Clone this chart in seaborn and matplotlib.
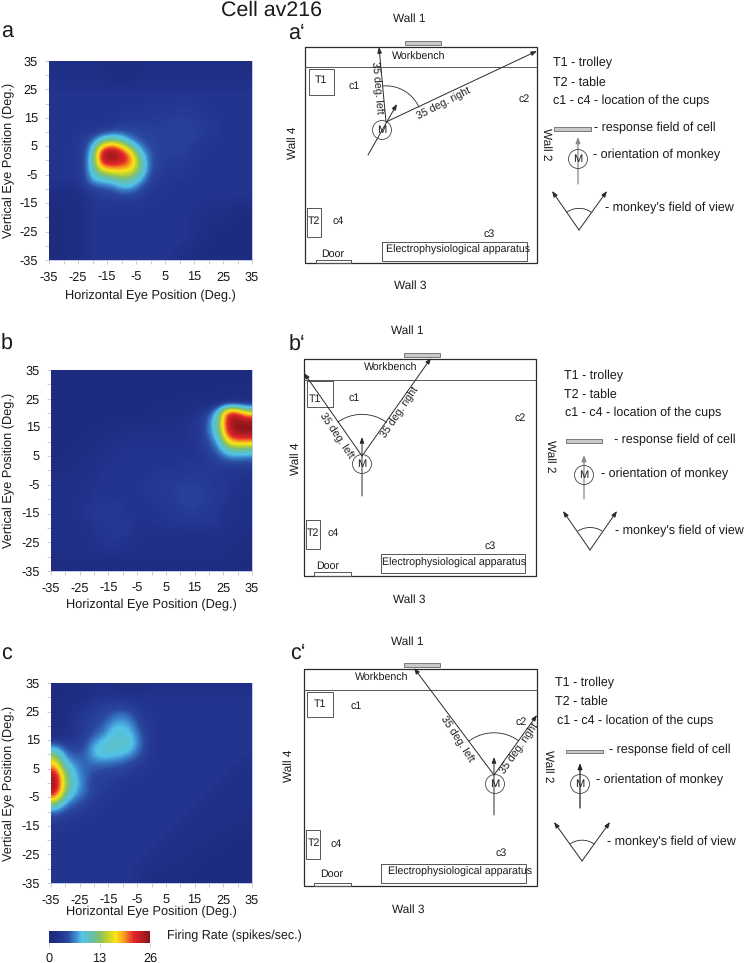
import numpy as np
import pandas as pd
import seaborn as sns
import matplotlib.pyplot as plt
from matplotlib.colors import LinearSegmentedColormap

# firing rate, rows run top (+35) to bottom (-35)
rate_a = [
    [2,2,2,2,2,1,1,1,1,1,2,2,2,2,2,2,2,2,2,2,1],
    [2,2,2,2,2,2,1,1,1,2,2,2,2,2,2,2,2,2,2,2,2],
    [2.5,2.5,2.5,2.5,2.5,2,2,2,2,2,2.5,2.5,2.5,2.5,2.5,2.5,2.5,2.5,2.5,2.5,2.5],
    [3,3,3,3,3,3,3,3,3,3,3,3,3,3,3,3,3,3,3,3,3],
    [3,3,3,3,3,3,3,3,3,3,3,3,3,3.5,3.5,3,3,3,3,3,3],
    [3,3,3,3,3,3,3,3,3,3,3.5,3.5,3.5,3.5,3.5,3.5,3,3,3,3,3],
    [3,3,3,3,3,3,3,3.5,3.5,3.5,3.5,3.5,4,4,4,3.5,3.5,3,3,3,3],
    [3,3,3,3,3,3.5,4.5,5,4.5,4.5,4,4,4,4,4,4,3.5,3,3,3,3],
    [3,3,3,3.5,6,12,15,12,7,5,4.5,4,4,4,4,3.5,3,3,3,3,3],
    [3,3,3,3.5,9,24,26,23,17,8,5,4,4,4,3.5,3,3,3,3,3,3],
    [3,3,3,3.5,10,25,25,24,21,12,5,4,3.5,3.5,3.5,3,3,3,3,3,3],
    [3,3,3,3.5,10,16,18,18,17,12,5,3.5,3.5,3.5,3,3,3,3,3,3,3],
    [3,3,3,3.5,8,9,10,12,12,8,4,3.5,3,3,3,3,3,3,3,3,3],
    [2,2,2,3,4,4.5,5,7,7,4.5,3.5,3,3,3,3,3,3,3,3,3,3],
    [1,1,1,2,3,3.5,3.5,3.5,3.5,3.5,3,3,3,3,3,3,3,3,3,3,3],
    [1,1,1,2,3,3,3,3,3,3,3,3,3,3,3,3,2,2,2,1,1],
    [1,1,1,2,3,3,3,3,3,3,3,3,3,3,3,2,2,2,1,1,1],
    [1,1,1,2,3,3,3,3,3,3,3,3,3,3,3,2,1,1,1,1,1],
    [1,1,1,2,3,3,3,3,3,3,3,3,3,3,3,2,1,1,1,1,1],
    [1,1,1,2,3,3,3,3,3,3,3,3,3,3,2,1,1,1,1,1,1],
    [1,1,1,2,3,3,3,3,3,3,3,3,3,2,1,1,1,1,1,1,1],
]
rate_b = [
    [1,1,1,1,1,1,1,1,1,1,1,1,1,1,1,1,1,1,1,1,1],
    [1,1,1,1,1,1,1,1,1,1,1,1,1,1,1,1,1,1,1,1,1],
    [1,1,1,1,1,1,1,1,1,1,1,1,1,1,1,1,1,1,1,1,1],
    [1,1,1,1,1,1,1,1,1,1,1,1,1,1,1,1,1,1,1.5,1.5,1.5],
    [1,1,1,1,1,1,1,1,1,1,1,1,1,1,2,3,4,10,24,22,16],
    [1,1,1,1,1,1,1,1,1,1,1,2,2,2,3,3,6,12,24,26,26],
    [1,1,1,1,1,1,1,2,2,2,2,2,2,2,3,3,6,11,24,26,26],
    [1,1,1,1,1,2,2,2.5,2.5,2.5,2.5,2.5,2.5,2.5,3,3,5,8,18,20,20],
    [1,1,1,1,2,2,2.5,3,3,3,3,3,3,3,3,3,4,6,10,11,10],
    [1,1,1,2,2,2.5,3,3,3,3,3,3,3,3,3,3,3.5,4,5,5,5],
    [1,1,2,2,2,3,3,3,3,3,3,3,3,3,3.5,3.5,3.5,3.5,3,3,3],
    [2,2,2,2,2.5,3,3,3,3,3,3,3.5,3.5,3.5,3.5,3.5,3.5,3,3,3,2.5],
    [2,2,2,2,3,3,3,3,3,3,3.5,3.5,3.5,4,4,4,3.5,3.5,3,2.5,2],
    [2,2,2,2.5,3,3,3,3,3,3,3,3.5,3.5,4,4.5,4,3.5,3.5,3,2,2],
    [2,2,2,3,3,3.5,3.5,3,3,3,3,3,3.5,3.5,4,3.5,3.5,3,2.5,2,2],
    [2,2,2,3,3,3.5,3.5,3,3,3,3,3,3,3.5,3.5,3.5,3.5,3,2.5,2,2],
    [2,2,2,2,3,3,3.5,3.5,3,2,2.5,3,3,3,3,3,3,3,2,2,2],
    [2,2,2,2,3,3,3,3,3,2,2,2,2,2,2,2,2,2,2,2,1],
    [2,2,2,2,2,3,3,3,2,2,2,2,2,2,2,2,2,2,2,1,1],
    [1,2,2,2,2,2,2,2,2,2,2,2,2,2,2,2,2,2,1,1,1],
    [1,1,1,1,1,1,1,1,1,1,1,1,1,1,1,1,1,1,1,1,1],
]
rate_c = [
    [1,1,1,1,2,2,2,1,1,1,2,2,2,2,2,2,2,2,2,2,2],
    [1,1,1,1,3,3,3,3,3,3,3,3,3,3,3,3,3,3,3,3,3],
    [1,1,2,3,3.5,4,4,4,3.5,3,3,3,3,3,3,3,3,3,3,3,3],
    [1,1,3,3.5,4,4.5,6,7,5.5,3.5,3,3,3,3,3,3,3,3,3,3,3],
    [1,2,3,3.5,4.5,5.5,8,8.5,7,4,3,3,3,3,3,3,3,3,3,3,3],
    [1,2,3,3.5,5.5,7,9.5,9.5,8.5,5,3,3,3,3,3,3,3,3,3,3,3],
    [6,4,3.5,4.5,8,9.5,10,10,9,5.5,3,3,3,3,3,3,3,3,3,3,3],
    [13,6.5,5,5.5,8.5,9.5,9,8.5,7,4.5,3,3,3,3,3,3,3,3,3,3,3],
    [18,9,7,5.5,6,6,5.5,5,4,3.5,3,3,3,3,3,3,3,3,3,3,2],
    [24,13,8,6,4.5,4,4,4,3,3,3,3,3,3,3,3,3,3,3,2,2],
    [26,14,9,6,4,4,3.5,3,3,3,3,3,3,3,3,3,3,3,2,2,2],
    [24,13,8,6,4,3.5,3,3,3,3,3,3,3,3,3,3,3,2,2,2,2],
    [15,7.5,5.5,4.5,3.5,3,3,3,3,3,3,3,3,3,3,3,2,2,2,2,2],
    [6,4.5,4,3.5,3,3,3,3,3,3,3,3,3,3,3,2,2,2,2,2,2],
    [3.5,3.5,3,3,3,3,3,3,3,3,3,3,3,3,2,2,2,2,2,2,1],
    [3,3,3,3,3,3,3,3,3,3,3,3,3,2,2,2,2,2,1,1,1],
    [3,3,3,3,3,3,3,3,3,3,3,3,2,2,2,2,2,1,1,1,1],
    [3,3,3,3,3,3,3,3,3,3,3,2,2,2,2,1,1,1,1,1,1],
    [3,3,3,3,3,3,3,3,3,3,2,2,2,2,1,1,1,1,1,1,1],
    [3,3,3,3,3,3,3,3,3,2,2,2,1,1,1,1,1,1,1,1,1],
    [3,3,3,3,3,3,3,3,3,2,1,1,1,1,1,1,1,1,1,1,1],
]
major_ticks = [-35, -25, -15, -5, 5, 15, 25, 35]
minor_ticks = [-30, -20, -10, 0, 10, 20, 30]
cbar_ticks = [0, 13, 26]

# layout in pixels of the 746x963 picture: left, top, right, bottom, xlabel y, ylabel x
map_boxes = {
    "a": (49, 61, 252, 260, 296, 9),
    "b": (51, 370, 252, 571, 605, 9),
    "c": (51, 683, 252, 883, 912, 9),
}

rooms = [
    dict(letter=("a", 1, 38), prime=("a\u2018", 288, 39),
         box=(305, 47, 537, 263), bench_y=67, field=(405, 41, 441, 45),
         bench=(419, 57), t1=(309, 69, 334, 95), t1_txt=(321, 80),
         t2=(307, 208, 321, 237), t2_txt=(314, 221),
         c1=(354, 86), c2=(524, 99), c3=(489, 234), c4=(338, 221),
         app=(382, 242, 527, 261), app_txt=(386, 250),
         door=(316, 260, 351, 263), door_txt=(333, 254),
         w1=(409, 19), w3=(410, 286), w4=(293, 143), w2=(546, 144),
         m=(382, 130), apex=(386, 122), left=(379, 47), right=(537, 51),
         ori=((368, 155), (397, 104)), arc=((383, 86), (419, 107)),
         ltxt=(376, 88, -85), rtxt=(444, 104, 27),
         lg_t=(553, 63, 83), lg_c=(553, 101),
         lg_rect=(554, 127, 591, 131), lg_rtxt=(594, 128),
         lg_m=(578, 159), lg_ori=(184, 137), ori_col="#888888", lg_otxt=(593, 155),
         lg_apex=(579, 230), lg_l=(552, 191), lg_r=(607, 191),
         lg_arc=((567, 212), (592, 211)), lg_vtxt=(605, 208)),
    dict(letter=("b", 1, 350), prime=("b\u2018", 289, 351),
         box=(304, 359, 536, 576), bench_y=380, field=(404, 353, 440, 357),
         bench=(391, 368), t1=(307, 381, 333, 407), t1_txt=(315, 399),
         t2=(306, 520, 320, 549), t2_txt=(313, 533),
         c1=(354, 398), c2=(520, 418), c3=(490, 546), c4=(333, 533),
         app=(381, 554, 525, 573), app_txt=(382, 563),
         door=(314, 572, 351, 576), door_txt=(328, 566),
         w1=(407, 331), w3=(409, 600), w4=(296, 459), w2=(550, 456),
         m=(362, 464), apex=(362, 456), left=(304, 373), right=(431, 358),
         ori=((362, 496), (362, 437)), arc=((338, 422), (387, 422)),
         ltxt=(336, 436, -56), rtxt=(400, 413, 56),
         lg_t=(564, 376, 395), lg_c=(565, 413),
         lg_rect=(566, 439, 602, 443), lg_rtxt=(614, 440),
         lg_m=(584, 475), lg_ori=(499, 455), ori_col="#888888", lg_otxt=(601, 474),
         lg_apex=(590, 550), lg_l=(563, 511), lg_r=(617, 511),
         lg_arc=((578, 531), (602, 531)), lg_vtxt=(615, 531)),
    dict(letter=("c", 1, 660), prime=("c\u2018", 290, 659),
         box=(304, 669, 537, 886), bench_y=690, field=(404, 663, 440, 667),
         bench=(382, 678), t1=(307, 692, 333, 717), t1_txt=(320, 704),
         t2=(306, 830, 320, 859), t2_txt=(314, 843),
         c1=(356, 706), c2=(521, 722), c3=(501, 853), c4=(336, 844),
         app=(381, 864, 526, 883), app_txt=(388, 872),
         door=(314, 883, 351, 886), door_txt=(332, 874),
         w1=(407, 642), w3=(408, 910), w4=(289, 766), w2=(548, 766),
         m=(495, 784), apex=(494, 775), left=(414, 668), right=(537, 715),
         ori=((494, 815), (494, 757)), arc=((469, 741), (518, 741)),
         ltxt=(457, 739, -57), rtxt=(520, 749, 55),
         lg_t=(555, 683, 702), lg_c=(557, 721),
         lg_rect=(566, 750, 603, 753), lg_rtxt=(609, 750),
         lg_m=(580, 784), lg_ori=(808, 763), ori_col="#222222", lg_otxt=(596, 780),
         lg_apex=(582, 861), lg_l=(554, 822), lg_r=(610, 822),
         lg_arc=((570, 844), (594, 844)), lg_vtxt=(607, 842)),
]

W, H = 746, 963
LINE = "#2a2a2a"
TXT = "#1a1a1a"

sns.set_style("white")
plt.rcParams["font.family"] = ["Liberation Sans", "DejaVu Sans"]
plt.rcParams["text.hinting"] = "no_hinting"

firing_cmap = LinearSegmentedColormap.from_list("firing", [
    (0.00, "#1d2a7a"), (0.10, "#22328c"), (0.18, "#2a479e"), (0.26, "#3b85cc"),
    (0.32, "#53c3e8"), (0.42, "#62c0b4"), (0.50, "#86c06c"), (0.58, "#bfd32c"),
    (0.66, "#fbe51a"), (0.74, "#f7a11f"), (0.84, "#e5262a"), (1.00, "#8a1518"),
], N=128)


def px_axes(fig, l, t, r, b):
    return fig.add_axes([l / W, 1 - b / H, (r - l) / W, (b - t) / H])


def draw_map(fig, rate, key, cax=None):
    l, t, r, b, xlab_y, ylab_x = map_boxes[key]
    ax = px_axes(fig, l, t, r, b)
    df = pd.DataFrame(rate)
    kws = dict(cmap=firing_cmap, vmin=0, vmax=26, xticklabels=False, yticklabels=False)
    if cax is None:
        sns.heatmap(df, ax=ax, cbar=False, **kws)
    else:
        sns.heatmap(df, ax=ax, cbar_ax=cax, cbar_kws={"orientation": "horizontal"}, **kws)
    n = df.shape[0]
    # smooth display of the same grid
    ax.imshow(df.values, cmap=firing_cmap, vmin=0, vmax=26, extent=(0, n, n, 0),
              aspect="auto", interpolation="bicubic", zorder=3)
    ax.set_xlim(0, n)
    ax.set_ylim(n, 0)

    to_x = lambda v: (v + 35) / 70 * n
    to_y = lambda v: (35 - v) / 70 * n
    ax.set_xticks([to_x(v) for v in major_ticks])
    ax.set_xticklabels([str(v) for v in major_ticks])
    ax.set_yticks([to_y(v) for v in major_ticks])
    ax.set_yticklabels([str(v) for v in major_ticks], rotation=0)
    ax.set_xticks([to_x(v) for v in minor_ticks], minor=True)
    ax.set_yticks([to_y(v) for v in minor_ticks], minor=True)
    ax.tick_params(which="both", length=3, width=0.6, color="#c4c4c4",
                   labelsize=9.2, labelcolor=TXT, pad=5, bottom=True, left=True)
    for s in ax.spines.values():
        s.set_visible(True)
        s.set_color("#b5c2e0")
        s.set_linewidth(0.6)
    ax.set_xlabel("Horizontal Eye Position (Deg.)", fontsize=9.2, color=TXT, va="center")
    ax.set_ylabel("Vertical Eye Position (Deg.)", fontsize=9.2, color=TXT, va="center")
    ax.xaxis.set_label_coords(0.5, -(xlab_y - b) / (b - t))
    ax.yaxis.set_label_coords(-(l - ylab_x) / (r - l), 0.5)
    return ax


def box(ov, rect, **kw):
    x0, y0, x1, y1 = rect
    ov.plot([x0, x1, x1, x0, x0], [y0, y0, y1, y1, y0], solid_joinstyle="miter", **kw)


def arrow(ov, start, end, color=LINE, lw=0.7):
    ov.annotate("", xy=end, xytext=start,
                arrowprops=dict(arrowstyle="-|>,head_width=0.13,head_length=0.35",
                                color=color, lw=lw, shrinkA=0, shrinkB=0))


def arc(ov, apex, p1, p2, color=LINE, lw=0.6):
    r = np.hypot(p1[0] - apex[0], p1[1] - apex[1])
    a1 = np.arctan2(p1[1] - apex[1], p1[0] - apex[0])
    a2 = np.arctan2(p2[1] - apex[1], p2[0] - apex[0])
    t = np.linspace(a1, a2, 30)
    ov.plot(apex[0] + r * np.cos(t), apex[1] + r * np.sin(t), color=color, lw=lw)


def monkey(ov, xy):
    ov.add_patch(plt.Circle(xy, 9.5, fill=False, ec="#444444", lw=0.6, zorder=4))
    ov.text(xy[0], xy[1], "M", fontsize=8, ha="center", va="center", color=TXT, zorder=5)


def field_bar(ov, rect):
    x0, y0, x1, y1 = rect
    ov.fill([x0, x1, x1, x0], [y0, y0, y1, y1], facecolor="#c9c9c9", edgecolor="#666666", lw=0.6)


def draw_room(ov, rm):
    def label(key, txt, size=7.7, **kw):
        ov.text(rm[key][0], rm[key][1], txt, fontsize=size, color=TXT,
                ha=kw.pop("ha", "center"), va="center", **kw)

    ov.text(rm["letter"][1], rm["letter"][2], rm["letter"][0], fontsize=15.5, va="baseline", color=TXT)
    ov.text(rm["prime"][1], rm["prime"][2], rm["prime"][0], fontsize=15.5, va="baseline", color=TXT)

    box(ov, rm["box"], color=LINE, lw=0.9)
    x0, _, x1, _ = rm["box"]
    ov.plot([x0, x1], [rm["bench_y"]] * 2, color="#555555", lw=0.7)
    field_bar(ov, rm["field"])
    box(ov, rm["t1"], color="#555555", lw=0.7)
    box(ov, rm["t2"], color="#555555", lw=0.7)
    box(ov, rm["app"], color="#555555", lw=0.7)
    box(ov, rm["door"], color="#555555", lw=0.7)

    label("bench", "Workbench")
    label("t1_txt", "T1")
    label("t2_txt", "T2")
    for c in ["c1", "c2", "c3", "c4"]:
        label(c, c)
    label("app_txt", "Electrophysiological apparatus", ha="left")
    label("door_txt", "Door")
    label("w1", "Wall 1", 8.6)
    label("w3", "Wall 3", 8.6)
    label("w4", "Wall 4", 8.6, rotation=90)
    label("w2", "Wall 2", 8.6, rotation=270)

    monkey(ov, rm["m"])
    arrow(ov, rm["ori"][0], rm["ori"][1])
    arrow(ov, rm["apex"], rm["left"])
    arrow(ov, rm["apex"], rm["right"])
    arc(ov, rm["apex"], rm["arc"][0], rm["arc"][1])
    ov.text(rm["ltxt"][0], rm["ltxt"][1], "35 deg. left", fontsize=7.7, color=TXT,
            rotation=rm["ltxt"][2], rotation_mode="anchor", ha="center", va="center")
    ov.text(rm["rtxt"][0], rm["rtxt"][1], "35 deg. right", fontsize=7.7, color=TXT,
            rotation=rm["rtxt"][2], rotation_mode="anchor", ha="center", va="center")

    # key on the right of each room
    ov.text(rm["lg_t"][0], rm["lg_t"][1], "T1 - trolley", fontsize=9, color=TXT, va="center")
    ov.text(rm["lg_t"][0], rm["lg_t"][2], "T2 - table", fontsize=9, color=TXT, va="center")
    ov.text(rm["lg_c"][0], rm["lg_c"][1], "c1 - c4 - location of the cups", fontsize=9, color=TXT, va="center")
    field_bar(ov, rm["lg_rect"])
    ov.text(rm["lg_rtxt"][0], rm["lg_rtxt"][1], "- response field of cell", fontsize=9, color=TXT, va="center")
    monkey(ov, rm["lg_m"])
    lx = rm["lg_m"][0]
    arrow(ov, (lx, rm["lg_ori"][0]), (lx, rm["lg_ori"][1]), color=rm["ori_col"], lw=0.9)
    ov.text(rm["lg_otxt"][0], rm["lg_otxt"][1], "- orientation of monkey", fontsize=9, color=TXT, va="center")
    arrow(ov, rm["lg_apex"], rm["lg_l"])
    arrow(ov, rm["lg_apex"], rm["lg_r"])
    arc(ov, rm["lg_apex"], rm["lg_arc"][0], rm["lg_arc"][1])
    ov.text(rm["lg_vtxt"][0], rm["lg_vtxt"][1], "- monkey's field of view", fontsize=9, color=TXT, va="center")


fig = plt.figure(figsize=(W / 100, H / 100), dpi=100)

draw_map(fig, rate_a, "a")
draw_map(fig, rate_b, "b")
cax = px_axes(fig, 49, 931, 150, 943)
draw_map(fig, rate_c, "c", cax=cax)
cax.set_xticks(cbar_ticks)
cax.set_xticklabels([str(v) for v in cbar_ticks])
cax.tick_params(length=3, width=0.6, color="#c4c4c4", labelsize=9.2, labelcolor=TXT, pad=4)
for s in cax.spines.values():
    s.set_visible(False)

ov = fig.add_axes([0, 0, 1, 1], zorder=5)
ov.set_xlim(0, W)
ov.set_ylim(H, 0)
ov.axis("off")
ov.patch.set_alpha(0)

ov.text(272, 10, "Cell av216", fontsize=15.4, ha="center", va="center", color=TXT)
ov.text(167, 936, "Firing Rate (spikes/sec.)", fontsize=9, va="center", color=TXT)
for rm in rooms:
    draw_room(ov, rm)

fig.savefig("out.png", dpi=100)
